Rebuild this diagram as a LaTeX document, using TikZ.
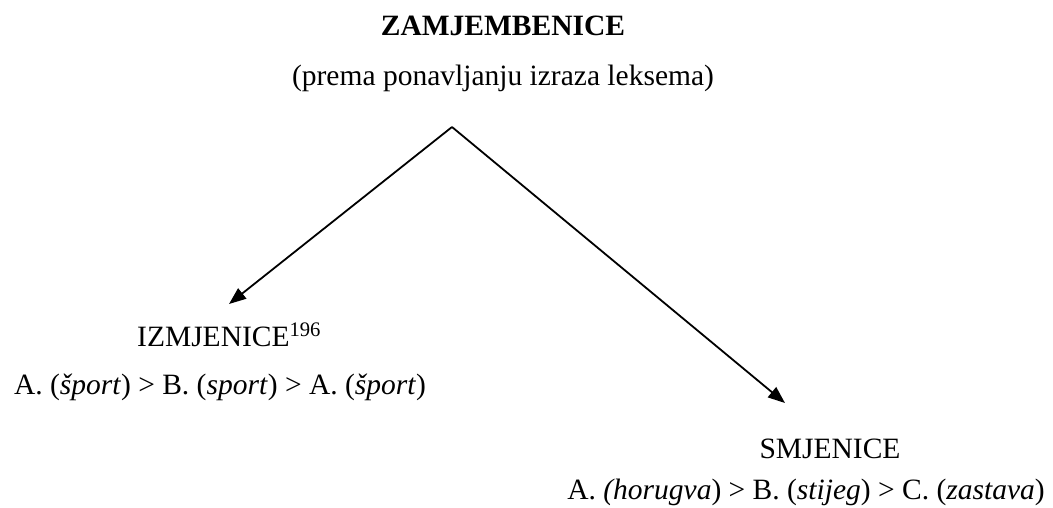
\documentclass[tikz,border=0pt]{standalone}
\usepackage{fontspec}
\setmainfont{Liberation Serif}
\usetikzlibrary{positioning,arrows.meta}

\begin{document}
\begin{tikzpicture}[
    x=1pt, y=-1pt,
    every node/.style={font=\fontsize{29.5}{35}\selectfont, inner sep=0pt},
    heading/.style={font=\fontsize{29.5}{35}\selectfont\bfseries},
    branch/.style={-{Triangle[length=17pt,width=13pt]}, line width=1.8pt}
  ]
  \useasboundingbox (0,0) rectangle (1053,508);

  \node[heading, anchor=base] (zamj) at (503,36) {ZAMJEMBENICE};
  \node[anchor=base] (kriterij) at (503,86) {(prema ponavljanju izraza leksema)};

  \coordinate (vrh) at (452,127);
  \coordinate (izmtip) at (229,304);
  \coordinate (smjtip) at (785,403);

  \node[anchor=base west] (izm) at (137,346) {IZMJENICE\textsuperscript{196}};
  \node[anchor=base] (izmprimjer) at (220,394)
    {A. (\textit{šport}) > B. (\textit{sport}) > A. (\textit{šport})};

  \node[anchor=base] (smj) at (830,458) {SMJENICE};
  \node[anchor=base] (smjprimjer) at (806,499)
    {A. \textit{(horugva}) > B. (\textit{stijeg}) > C. (\textit{zastava})};

  \draw[branch] (vrh) -- (izmtip);
  \draw[branch] (vrh) -- (smjtip);

\end{tikzpicture}
\end{document}
